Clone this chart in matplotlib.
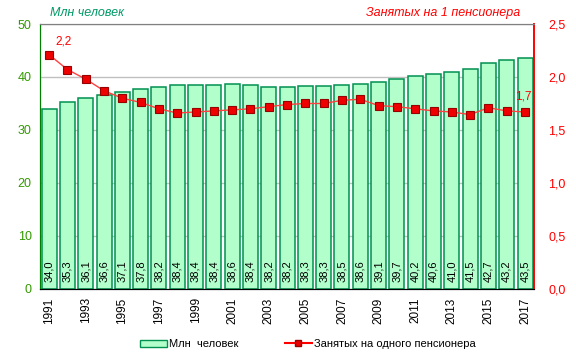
import matplotlib
matplotlib.use("Agg")
import matplotlib.pyplot as plt
from matplotlib.lines import Line2D
from matplotlib.patches import Patch

plt.rcParams['font.family'] = ['Liberation Sans', 'DejaVu Sans']

years = list(range(1991, 2018))
employed = [34.0, 35.3, 36.1, 36.6, 37.1, 37.8, 38.2, 38.4, 38.4, 38.4, 38.6, 38.4, 38.2, 38.2,
            38.3, 38.3, 38.5, 38.6, 39.1, 39.7, 40.2, 40.6, 41.0, 41.5, 42.7, 43.2, 43.5]
ratio = [2.21, 2.07, 1.98, 1.87, 1.80, 1.76, 1.70, 1.66, 1.67, 1.68, 1.69, 1.70, 1.72, 1.74,
         1.75, 1.75, 1.78, 1.79, 1.73, 1.72, 1.70, 1.68, 1.67, 1.645, 1.71, 1.68, 1.67]
xtick_labels = [str(y) if (y - 1991) % 2 == 0 else "" for y in years]

fig = plt.figure(figsize=(5.76, 3.62), dpi=100)
ax = fig.add_axes([0.0694, 0.2017, 0.858, 0.732])
ax2 = ax.twinx()

x = list(range(len(years)))
bars = ax.bar(x, employed, width=0.82, color='#B3FFCC', edgecolor='#009050', linewidth=1.1, zorder=2)
for xi, v in zip(x, employed):
    ax.text(xi, 1.3, f"{v:.1f}".replace('.', ','), rotation=90, ha='center', va='bottom',
            fontsize=8, color='black', zorder=3)

ax.set_xlim(-0.5, len(years) - 0.5)
ax.set_ylim(0, 50)
ax.set_yticks([0, 10, 20, 30, 40, 50])
ax.set_yticklabels(['0', '10', '20', '30', '40', '50'])
ax.yaxis.grid(True, color='#C0C0C0', linewidth=1, zorder=0)
ax.set_axisbelow(True)
ax.set_xticks(x)
ax.set_xticklabels(xtick_labels, rotation=90, fontsize=8.5)
ax.tick_params(axis='x', length=0, pad=6)
ax.tick_params(axis='y', length=0, colors='#339900', labelsize=9, pad=6)

ax2.plot(x, ratio, color='#FF4040', linewidth=1.0, marker='s', markersize=5.5,
         markerfacecolor='#EE0000', markeredgecolor='#990000', markeredgewidth=0.8, zorder=4)
ax2.set_ylim(0, 2.5)
ax2.set_yticks([0, 0.5, 1.0, 1.5, 2.0, 2.5])
ax2.set_yticklabels(['0,0', '0,5', '1,0', '1,5', '2,0', '2,5'])
ax2.tick_params(axis='y', length=0, colors='#FF0000', labelsize=9, pad=10)
ax2.text(x[0] + 0.35, ratio[0] + 0.07, "2,2", color='#FF0000', fontsize=8.5, ha='left', va='bottom')
ax2.text(x[-1] - 0.1, ratio[-1] + 0.09, "1,7", color='#FF0000', fontsize=8.5, ha='center', va='bottom')

for a in (ax, ax2):
    a.spines['top'].set_color('#808080')
    a.spines['bottom'].set_color('black')
    a.spines['left'].set_color('#008000')
    a.spines['right'].set_color('#FF0000')
    a.spines['right'].set_linewidth(1.2)

ax.set_zorder(1)
ax2.set_zorder(2)
ax.patch.set_visible(True)
ax2.patch.set_visible(False)

fig.text(50 / 576, 1 - 13 / 362, "Млн человек", color='#009966', fontsize=9, style='italic',
         ha='left', va='center')
fig.text(520 / 576, 1 - 13 / 362, "Занятых на 1 пенсионера", color='#FF0000', fontsize=9,
         style='italic', ha='right', va='center')

handles = [Patch(facecolor='#B3FFCC', edgecolor='#009050', label='Млн  человек'),
           Line2D([0], [0], color='#FF0000', marker='s', markersize=4, markerfacecolor='#EE0000',
                  markeredgecolor='#990000', label='Занятых на одного пенсионера')]
fig.legend(handles=handles, loc='center left', bbox_to_anchor=(140 / 576, 1 - 344 / 362), ncol=2,
           frameon=False, fontsize=8, handlelength=2.4, handleheight=0.6, columnspacing=4.2,
           handletextpad=0.2, borderpad=0, borderaxespad=0)

fig.savefig("out.png", dpi=100)
